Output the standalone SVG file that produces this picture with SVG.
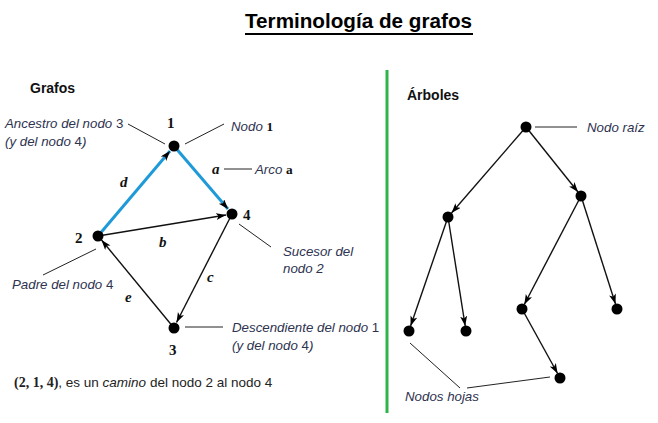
<svg xmlns="http://www.w3.org/2000/svg" width="658" height="423" viewBox="0 0 658 423">
<defs>
<marker id="arr" markerUnits="userSpaceOnUse" markerWidth="12" markerHeight="8" refX="10" refY="3.5" orient="auto">
<path d="M0,0 L10,3.5 L0,7 L2.5,3.5 z" fill="#000"/>
</marker>
<style>
.node{fill:#000}
.edge{stroke:#111;stroke-width:1.4;fill:none;marker-end:url(#arr)}
.blue{stroke:#1f9ad8;stroke-width:3;fill:none;marker-end:url(#arr)}
.lead{stroke:#222;stroke-width:1;fill:none}
.lbl{font-family:"Liberation Sans",Arial,sans-serif;font-style:italic;font-size:13.3px;fill:#2e3350}
.num{font-family:"Liberation Serif","Times New Roman",serif;font-size:15px;font-weight:bold;fill:#111}
.el{font-family:"Liberation Serif","Times New Roman",serif;font-style:italic;font-weight:bold;font-size:15px;fill:#111}
.head{font-family:"Liberation Sans",Arial,sans-serif;font-weight:bold;font-size:14px;fill:#111}
</style>
</defs>
<rect width="658" height="423" fill="#fff"/>

<g id="title">
<text x="245" y="28" font-family="'Liberation Sans',Arial,sans-serif" font-weight="bold" font-size="19.5" textLength="227" lengthAdjust="spacingAndGlyphs" fill="#000">Terminología de grafos</text>
<rect x="245" y="33" width="228" height="2" fill="#000"/>
</g>

<line x1="387" y1="70" x2="387" y2="413" stroke="#2fb34a" stroke-width="3"/>

<text class="head" x="30" y="93">Grafos</text>
<text class="head" x="407" y="100">Árboles</text>

<g id="connectors">
<line class="blue" x1="98" y1="236" x2="170" y2="151"/>
<line class="blue" x1="174" y1="146" x2="228" y2="209"/>
<line class="edge" x1="98" y1="236" x2="226" y2="215"/>
<line class="edge" x1="232" y1="214" x2="176.5" y2="322.5"/>
<line class="edge" x1="174" y1="328" x2="101.5" y2="240"/>
<line class="edge" x1="526" y1="127" x2="451.5" y2="213"/>
<line class="edge" x1="526" y1="127" x2="578" y2="192"/>
<line class="edge" x1="448" y1="217" x2="410.6" y2="326"/>
<line class="edge" x1="448" y1="217" x2="465.2" y2="326"/>
<line class="edge" x1="581" y1="196" x2="524.3" y2="304.5"/>
<line class="edge" x1="581" y1="196" x2="615.5" y2="304"/>
<line class="edge" x1="522" y1="309" x2="557.6" y2="373.5"/>
</g>

<g id="edge-labels">
<text class="el" x="120" y="187">d</text>
<text class="el" x="212" y="174">a</text>
<text class="el" x="159" y="247">b</text>
<text class="el" x="207" y="282">c</text>
<text class="el" x="125" y="302">e</text>
</g>

<g id="n1"><circle class="node" cx="174" cy="146" r="5.5"/><text class="num" x="167" y="128">1</text></g>
<g id="n2"><circle class="node" cx="98" cy="236" r="5.5"/><text class="num" x="75" y="243">2</text></g>
<g id="n3"><circle class="node" cx="174" cy="328" r="5.5"/><text class="num" x="169" y="355">3</text></g>
<g id="n4"><circle class="node" cx="232" cy="214" r="5.5"/><text class="num" x="243" y="220">4</text></g>

<g id="ann-ancestro">
<line class="lead" x1="128" y1="124" x2="165" y2="144"/>
<text class="lbl" x="5" y="128">Ancestro del nodo <tspan font-style="normal">3</tspan></text>
<text class="lbl" x="5" y="146">(y del nodo <tspan font-style="normal">4</tspan>)</text>
</g>
<g id="ann-nodo1">
<line class="lead" x1="185" y1="144" x2="224" y2="124"/>
<text class="lbl" x="231" y="131">Nodo <tspan font-family="'Liberation Serif',serif" font-style="normal" font-weight="bold" fill="#111">1</tspan></text>
</g>
<g id="ann-arco">
<line class="lead" x1="224" y1="169" x2="252" y2="169" stroke-width="1.3"/>
<text class="lbl" x="255" y="174">Arco <tspan font-family="'Liberation Serif',serif" font-style="normal" font-weight="bold" fill="#111">a</tspan></text>
</g>
<g id="ann-sucesor">
<line class="lead" x1="239" y1="224" x2="271" y2="247"/>
<text class="lbl" x="283" y="256">Sucesor del</text>
<text class="lbl" x="283" y="273">nodo 2</text>
</g>
<g id="ann-padre">
<line class="lead" x1="43" y1="275" x2="96" y2="249"/>
<text class="lbl" x="12" y="289">Padre del nodo <tspan font-style="normal">4</tspan></text>
</g>
<g id="ann-desc">
<line class="lead" x1="185" y1="327" x2="223" y2="327" stroke-width="1.3"/>
<text class="lbl" x="232" y="332">Descendiente del nodo <tspan font-style="normal">1</tspan></text>
<text class="lbl" x="232" y="350">(y del nodo <tspan font-style="normal">4</tspan>)</text>
</g>

<text x="14" y="387" font-family="'Liberation Sans',Arial,sans-serif" font-size="13.5" fill="#222"><tspan font-family="'Liberation Serif',serif" font-weight="bold" font-size="14">(2, 1, 4)</tspan>, es un <tspan font-style="italic">camino</tspan> del nodo 2 al nodo 4</text>

<g id="t-root"><circle class="node" cx="526" cy="127" r="5.5"/></g>
<g id="t-left"><circle class="node" cx="448" cy="217" r="5.5"/></g>
<g id="t-right"><circle class="node" cx="581" cy="196" r="5.5"/></g>
<g id="t-leaf1"><circle class="node" cx="409" cy="331" r="5.5"/></g>
<g id="t-leaf2"><circle class="node" cx="466" cy="331" r="5.5"/></g>
<g id="t-mid"><circle class="node" cx="522" cy="309" r="5.5"/></g>
<g id="t-leaf3"><circle class="node" cx="617" cy="309" r="5.5"/></g>
<g id="t-leaf4"><circle class="node" cx="560" cy="378" r="5.5"/></g>

<g id="ann-raiz">
<line class="lead" x1="535" y1="127" x2="577" y2="127" stroke-width="1.3"/>
<text class="lbl" x="587" y="132">Nodo raíz</text>
</g>
<g id="ann-hojas">
<line class="lead" x1="410" y1="343" x2="460" y2="388"/>
<line class="lead" x1="467" y1="388" x2="550" y2="377"/>
<text class="lbl" x="405" y="401">Nodos hojas</text>
</g>
</svg>
